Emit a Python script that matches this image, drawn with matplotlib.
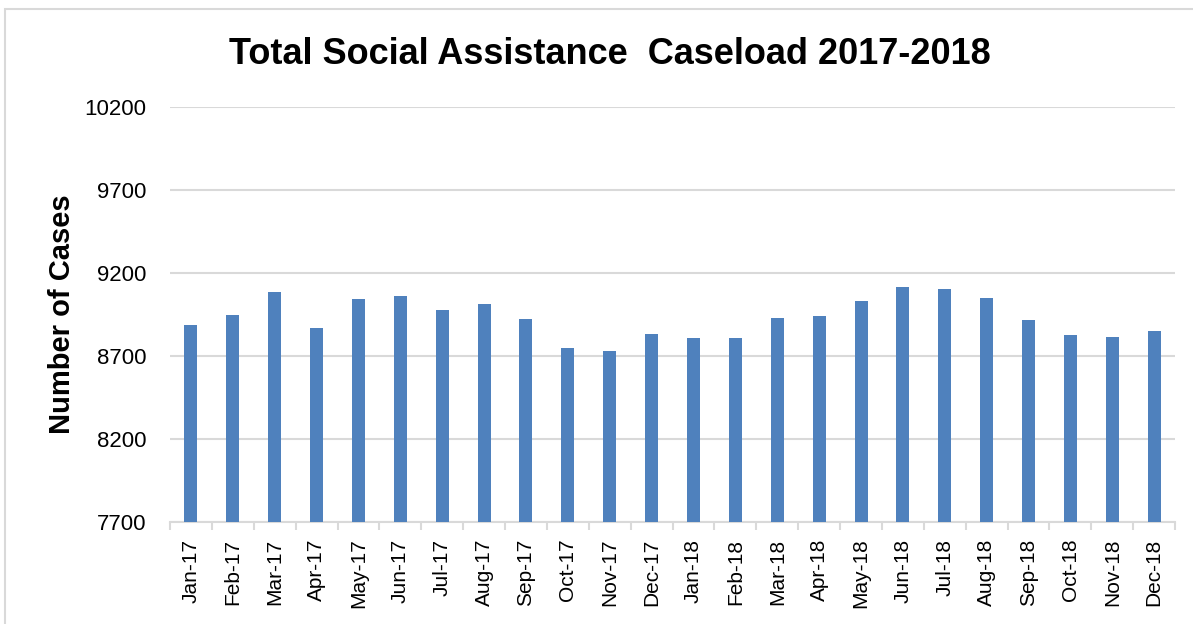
import numpy as np
import matplotlib.pyplot as plt
from matplotlib.patches import Rectangle

months = ['Jan-17', 'Feb-17', 'Mar-17', 'Apr-17', 'May-17', 'Jun-17',
          'Jul-17', 'Aug-17', 'Sep-17', 'Oct-17', 'Nov-17', 'Dec-17',
          'Jan-18', 'Feb-18', 'Mar-18', 'Apr-18', 'May-18', 'Jun-18',
          'Jul-18', 'Aug-18', 'Sep-18', 'Oct-18', 'Nov-18', 'Dec-18']
cases = [8884, 8948, 9084, 8868, 9046, 9062, 8978, 9016, 8924, 8748, 8732, 8832,
         8808, 8808, 8930, 8940, 9032, 9116, 9102, 9048, 8918, 8824, 8816, 8848]
y_ticks = [7700, 8200, 8700, 9200, 9700, 10200]

plt.rcParams['font.family'] = ['Liberation Sans', 'DejaVu Sans']

fig = plt.figure(figsize=(11.93, 6.24), dpi=100)
ax = fig.add_axes([0.1425, 0.1635, 0.8425, 0.665])

# chart border like the spreadsheet frame
fig.patches.append(Rectangle((0.004, -0.01), 1.1, 0.995, transform=fig.transFigure,
                             fill=False, edgecolor='#d9d9d9', linewidth=1.5))

x = np.arange(len(months))
ax.bar(x, cases, width=0.31, color='#4f81bd', zorder=3)

ax.set_xlim(-0.5, len(months) - 0.5)
ax.set_ylim(7700, 10200)
ax.set_yticks(y_ticks)
ax.set_yticklabels([str(v) for v in y_ticks], fontsize=16)
ax.yaxis.grid(True, color='#d9d9d9', linewidth=1.5, zorder=0)
ax.tick_params(axis='y', length=0, pad=17)

ax.set_xticks(x)
ax.set_xticklabels(months, rotation=90, fontsize=15)
ax.set_xticks(np.arange(-0.5, len(months)), minor=True)
ax.tick_params(axis='x', which='major', length=0, pad=12)
ax.tick_params(axis='x', which='minor', length=6, color='#d9d9d9', width=1.5)

for s in ['top', 'right', 'left']:
    ax.spines[s].set_visible(False)
ax.spines['bottom'].set_color('#d9d9d9')
ax.spines['bottom'].set_linewidth(1.5)

fig.text(0.052, 0.496, 'Number of Cases', rotation=90, ha='center', va='center',
         fontsize=21, fontweight='bold')
fig.text(0.511, 0.912, 'Total Social Assistance  Caseload 2017-2018', ha='center', va='center',
         fontsize=26, fontweight='bold')

fig.savefig('out.png', dpi=100)
